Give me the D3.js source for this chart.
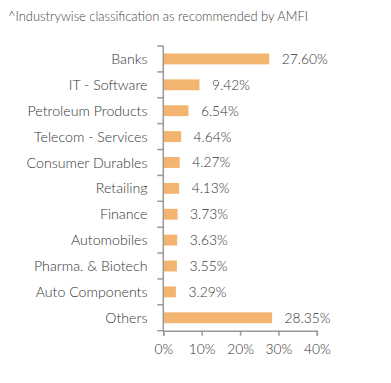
<!DOCTYPE html>
<html><head><meta charset="utf-8">
<script src="https://cdn.jsdelivr.net/npm/d3@7"></script>
<style>body{margin:0;background:#fff;} text{font-family:Lato, sans-serif;}</style>
</head><body>
<svg id="c" width="391" height="383"></svg>
<script>
const title = "^Industrywise classification as recommended by AMFI";
const categories = ["Banks","IT - Software","Petroleum Products","Telecom - Services","Consumer Durables","Retailing","Finance","Automobiles","Pharma. & Biotech","Auto Components","Others"];
const values = [27.60,9.42,6.54,4.64,4.27,4.13,3.73,3.63,3.55,3.29,28.35];
const valueLabels = ["27.60%","9.42%","6.54%","4.64%","4.27%","4.13%","3.73%","3.63%","3.55%","3.29%","28.35%"];
const xTicks = [0,10,20,30,40];

const svg = d3.select("#c");
const x = d3.scaleLinear().domain([0,40]).range([163.3,316.8]);
const y = d3.scaleBand().domain(categories).range([46,330.7]).paddingInner(0.58).paddingOuter(0.29);

svg.append("text").attr("x",8).attr("y",21).attr("font-size",12.9).attr("fill","#444").attr("font-weight",300).text(title);

svg.selectAll("rect.bar").data(categories).join("rect").attr("class","bar")
  .attr("x",x(0)).attr("y",d=>y(d)).attr("height",y.bandwidth())
  .attr("width",(d,i)=>x(values[i])-x(0)).attr("fill","#F2B46E");

svg.selectAll("text.val").data(categories).join("text").attr("class","val")
  .attr("x",(d,i)=>x(values[i])+12.5).attr("y",d=>y(d)+y.bandwidth()/2).attr("dy","0.36em")
  .attr("font-size",13.8).attr("fill","#333").attr("font-weight",300).text((d,i)=>valueLabels[i]);

// y axis
const gy = svg.append("g");
gy.append("line").attr("x1",x(0)).attr("x2",x(0)).attr("y1",46).attr("y2",330.7).attr("stroke","#999").attr("stroke-width",1.5);
const step = y.step();
const bounds = d3.range(categories.length+1).map(i=>46+i*step);
gy.selectAll("line.t").data(bounds).join("line").attr("class","t")
  .attr("x1",x(0)-6).attr("x2",x(0)).attr("y1",d=>d).attr("y2",d=>d).attr("stroke","#999").attr("stroke-width",1.5);
gy.selectAll("text").data(categories).join("text")
  .attr("x",147.5).attr("y",d=>y(d)+y.bandwidth()/2).attr("dy","0.36em").attr("text-anchor","end")
  .attr("font-size",14.2).attr("fill","#333").attr("font-weight",300).text(d=>d);

// x axis
const gx = svg.append("g").attr("transform","translate(0,330.7)");
const xa = d3.axisBottom(x).tickValues(xTicks).tickSize(5).tickPadding(9).tickFormat(d=>d+"%");
gx.call(xa);
gx.select(".domain").attr("stroke","#999").attr("stroke-width",1.5);
gx.selectAll(".tick line").attr("stroke","#999").attr("stroke-width",1.5);
gx.selectAll(".tick text").attr("font-size",13.8).attr("fill","#333").attr("font-family","Lato, sans-serif").attr("font-weight",300);
</script>
</body></html>
